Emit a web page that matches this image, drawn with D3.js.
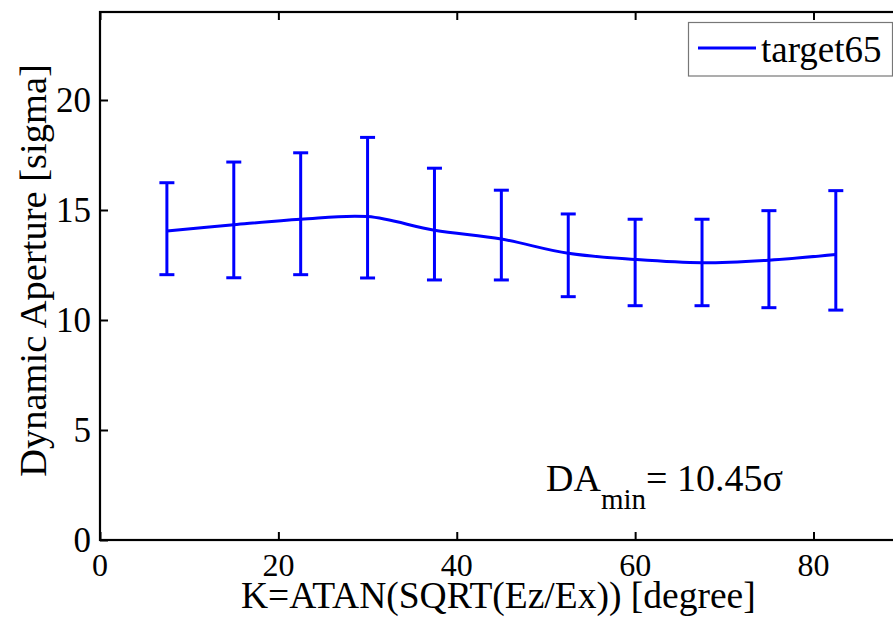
<!DOCTYPE html>
<html><head><meta charset="utf-8"><script src="https://cdn.jsdelivr.net/npm/d3@7"></script></head>
<body style="margin:0">
<svg id="s" width="893" height="621"></svg>
<script>
// ---- data ----
const kValues   = [7.5, 15, 22.5, 30, 37.5, 45, 52.5, 60, 67.5, 75, 82.5];
const daMean    = [14.05, 14.33, 14.58, 14.70, 14.08, 13.68, 13.03, 12.75, 12.60, 12.72, 12.98];
const daUpper   = [16.24, 17.18, 17.60, 18.30, 16.90, 15.90, 14.82, 14.58, 14.58, 14.97, 15.88];
const daLower   = [12.06, 11.92, 12.06, 11.91, 11.82, 11.82, 11.06, 10.65, 10.65, 10.56, 10.45];
const xTicks    = [0, 20, 40, 60, 80];
const yTicks    = [0, 5, 10, 15, 20];
const seriesName = "target65";
const xLabel = "K=ATAN(SQRT(Ez/Ex)) [degree]";
const yLabel = "Dynamic Aperture [sigma]";

const points = kValues.map((k, i) => ({k, m: daMean[i], hi: daUpper[i], lo: daLower[i]}));
const svg = d3.select("#s");
const FAM = "Liberation Serif";
const BLUE = "#0000ff";
const pL = 100, pR = 902.7, pT = 12, pB = 540;
const xs = d3.scaleLinear().domain([0, 90]).range([pL, pR]);
const ys = d3.scaleLinear().domain([0, 24]).range([pB, pT]);

function label(sel, size) {
  return sel.attr("font-size", size).attr("font-family", FAM)
    .style("font-family", `"${FAM}", "Tinos", "Times New Roman", "DejaVu Serif"`, "important")
    .attr("fill", "#000");
}

// axes box
svg.append("rect").attr("x", pL).attr("y", pT).attr("width", pR - pL).attr("height", pB - pT)
  .attr("fill", "none").attr("stroke", "#000").attr("stroke-width", 2.2);

// ticks (drawn with d3 axes, labels drawn as texts from the same scale)
const gx = svg.append("g").attr("transform", `translate(0,${pB})`)
  .call(d3.axisBottom(xs).tickValues(xTicks).tickSizeInner(-8).tickSizeOuter(0).tickFormat(""));
const gxt = svg.append("g").attr("transform", `translate(0,${pT})`)
  .call(d3.axisTop(xs).tickValues(xTicks).tickSizeInner(-8).tickSizeOuter(0).tickFormat(""));
const gy = svg.append("g").attr("transform", `translate(${pL},0)`)
  .call(d3.axisLeft(ys).tickValues(yTicks).tickSizeInner(-8).tickSizeOuter(0).tickFormat(""));
const gyr = svg.append("g").attr("transform", `translate(${pR},0)`)
  .call(d3.axisRight(ys).tickValues(yTicks).tickSizeInner(-8).tickSizeOuter(0).tickFormat(""));
[gx, gxt, gy, gyr].forEach(g => {
  g.select(".domain").remove();
  g.attr("font-family", null).attr("font-size", null);
  g.selectAll("line").attr("stroke", "#000").attr("stroke-width", 2);
  g.selectAll("text").remove();
});

xTicks.forEach(t => {
  label(svg.append("text"), 32).attr("x", xs(t)).attr("y", pB + 36).attr("text-anchor", "middle").text(t);
});
yTicks.forEach(t => {
  label(svg.append("text"), 35).attr("x", pL - 9).attr("y", ys(t) + 12).attr("text-anchor", "end").text(t);
});

// error bars
const eb = svg.append("g").attr("stroke", BLUE).attr("stroke-width", 3).attr("fill", "none");
const capW = 7.5;
points.forEach(p => {
  eb.append("line").attr("x1", xs(p.k)).attr("x2", xs(p.k)).attr("y1", ys(p.lo)).attr("y2", ys(p.hi));
  eb.append("line").attr("x1", xs(p.k) - capW).attr("x2", xs(p.k) + capW).attr("y1", ys(p.lo)).attr("y2", ys(p.lo));
  eb.append("line").attr("x1", xs(p.k) - capW).attr("x2", xs(p.k) + capW).attr("y1", ys(p.hi)).attr("y2", ys(p.hi));
});

// mean line
const line = d3.line().x(d => xs(d.k)).y(d => ys(d.m)).curve(d3.curveCatmullRom.alpha(0.5));
svg.append("path").datum(points).attr("d", line)
  .attr("fill", "none").attr("stroke", BLUE).attr("stroke-width", 3);

// axis labels
label(svg.append("text"), 37.5).attr("x", (pL + pR) / 2 - 3).attr("y", 608)
  .attr("text-anchor", "middle").text(xLabel);
label(svg.append("text"), 38.5).attr("transform", `translate(46,${(63 + 478) / 2}) rotate(-90)`)
  .attr("text-anchor", "middle").text(yLabel);

// annotation
const ann = label(svg.append("text"), 38).attr("x", 546).attr("y", 491);
ann.append("tspan").text("DA");
ann.append("tspan").attr("font-size", 29).attr("dy", 18).text("min");
ann.append("tspan").attr("dy", -18).text("= 10.45σ");

// legend
svg.append("rect").attr("x", 688.5).attr("y", 22.5).attr("width", 204).attr("height", 53.5)
  .attr("fill", "#fff").attr("stroke", "#777").attr("stroke-width", 1.2);
svg.append("line").attr("x1", 698).attr("x2", 756).attr("y1", 48).attr("y2", 48)
  .attr("stroke", BLUE).attr("stroke-width", 3);
label(svg.append("text"), 37).attr("x", 761).attr("y", 62).text(seriesName);
</script>
</body>
</html>
